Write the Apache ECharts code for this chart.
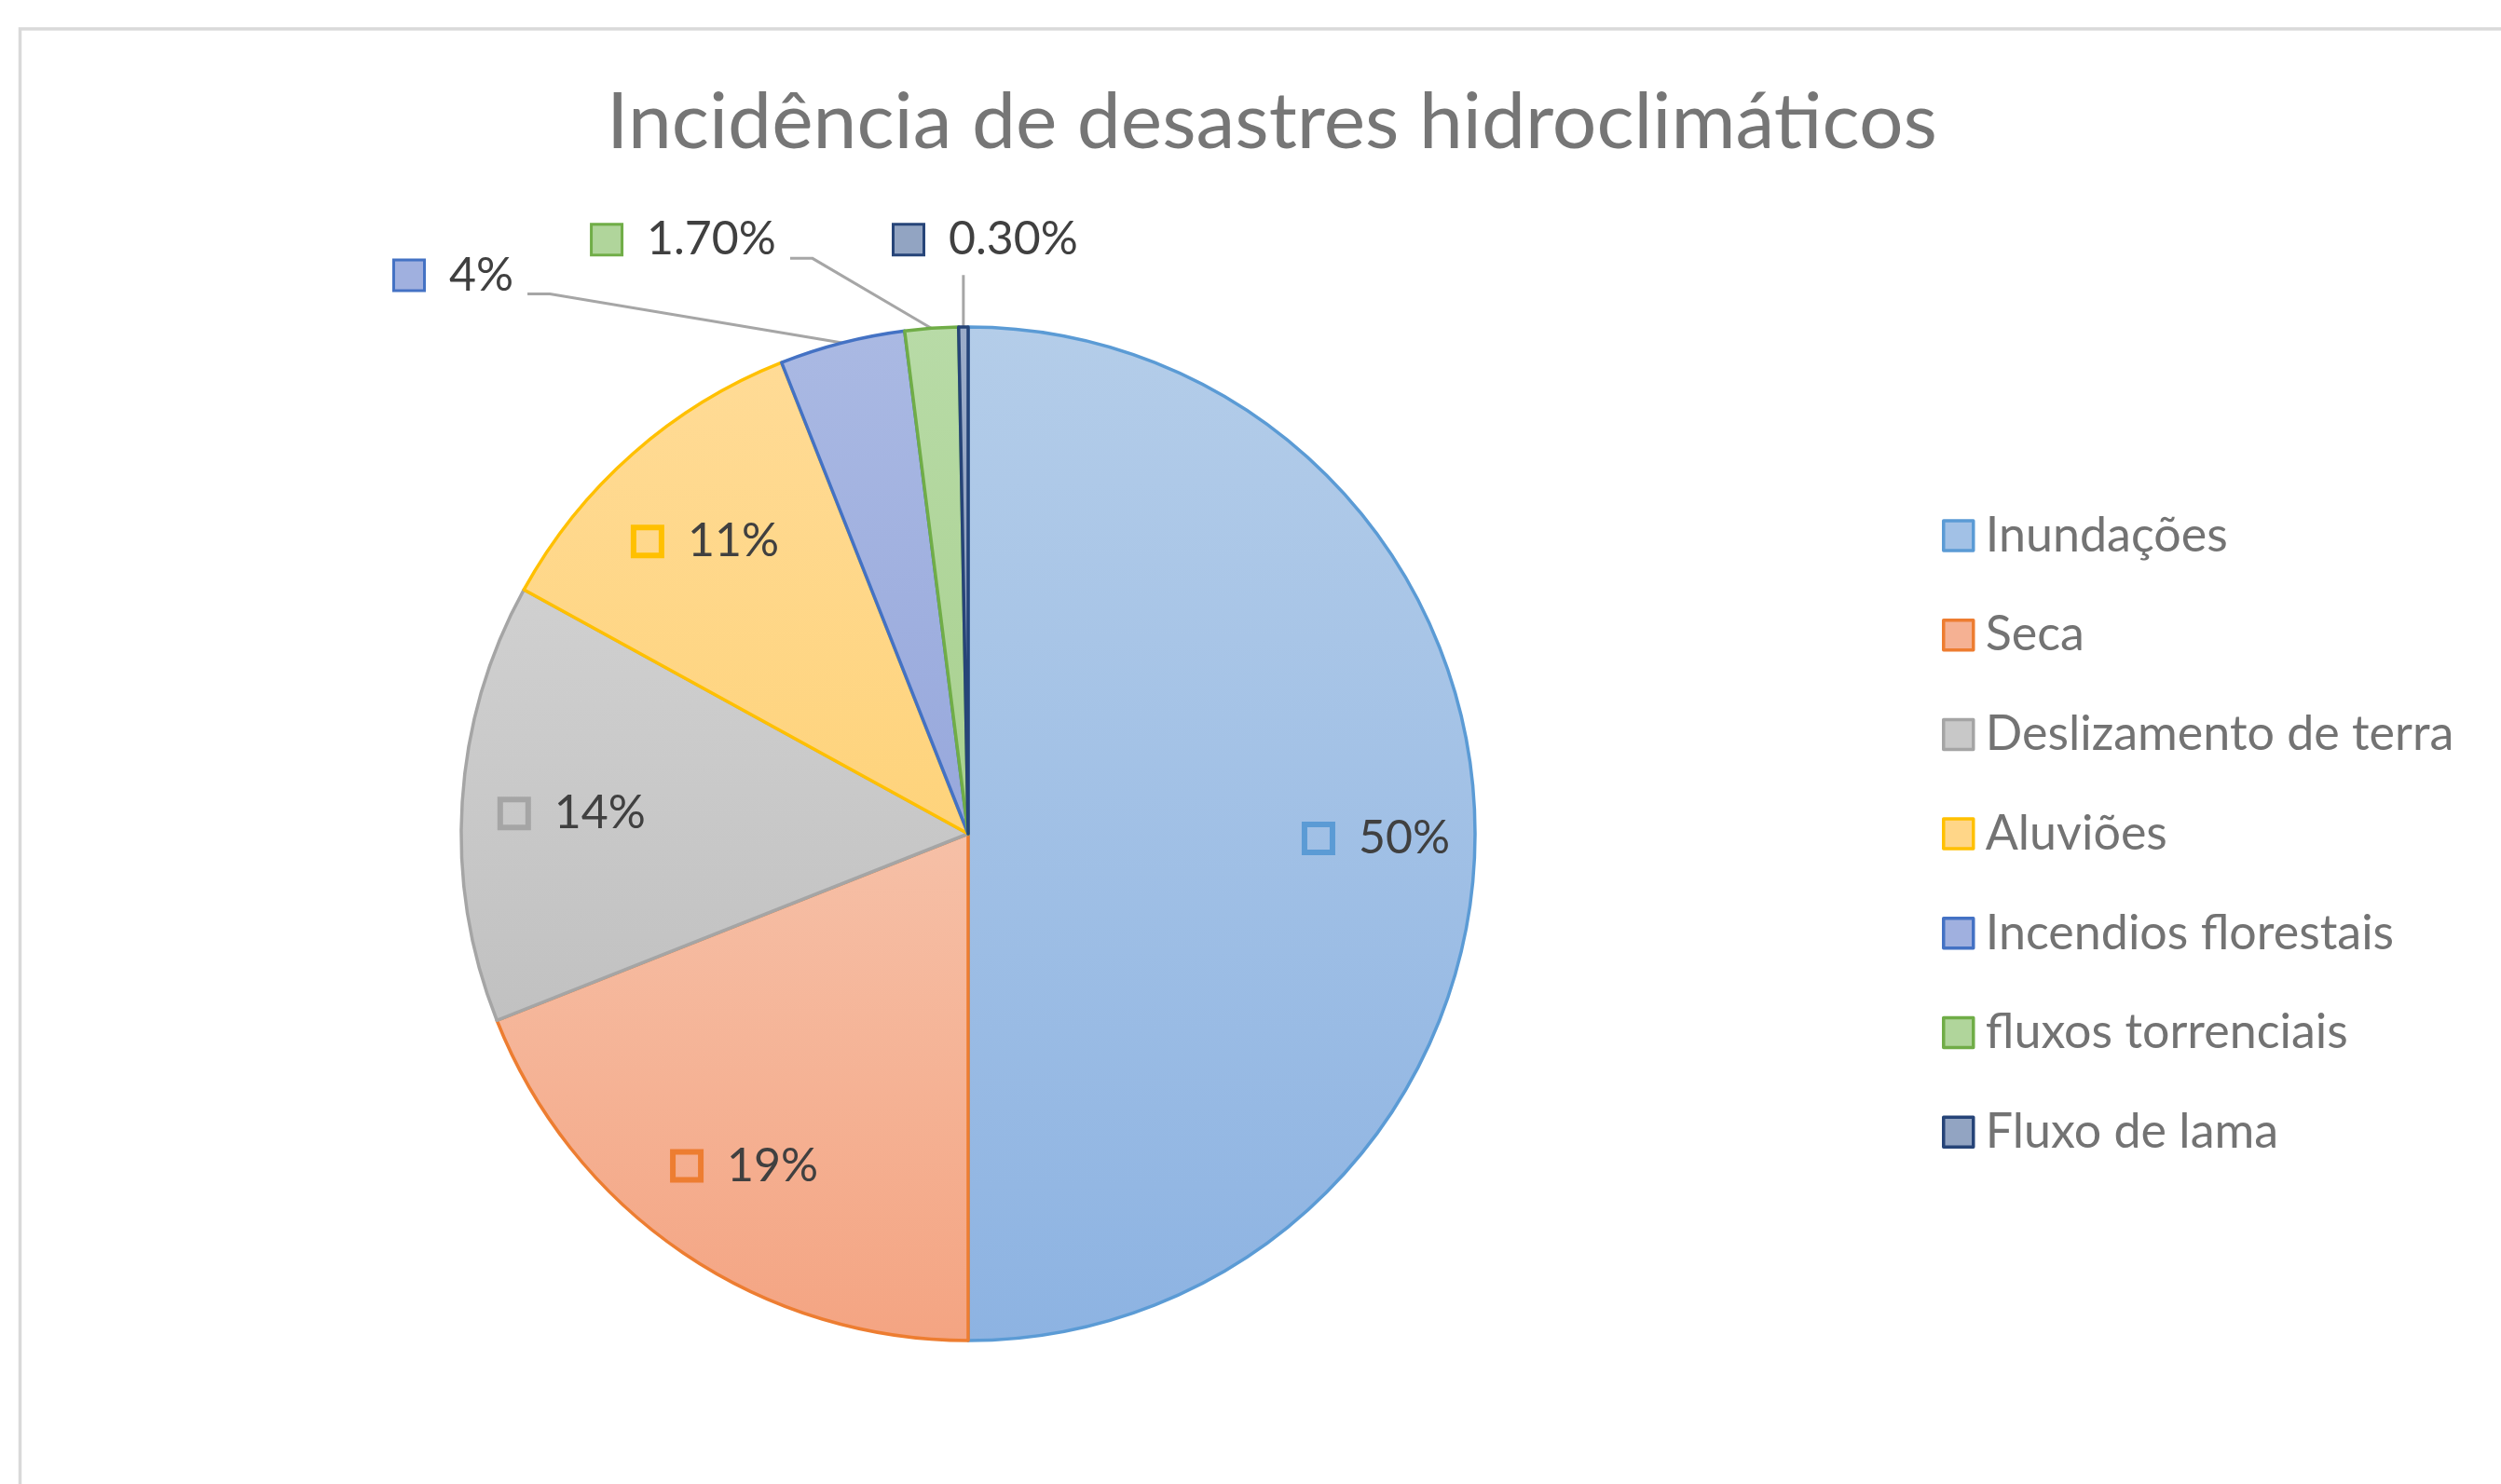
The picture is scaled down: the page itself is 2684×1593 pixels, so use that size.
<!DOCTYPE html>
<html>
<head>
<meta charset="utf-8">
<script src="https://cdn.jsdelivr.net/npm/echarts@6/dist/echarts.min.js"></script>
<style>
html,body{margin:0;padding:0;background:#ffffff;}
#chart{width:2684px;height:1593px;}
</style>
</head>
<body>
<div id="chart"></div>
<script>
// ---- data ----
const chartTitle = 'Incidência de desastres hidroclimáticos';
const categories = ['Inundações', 'Seca', 'Deslizamento de terra', 'Aluviões', 'Incendios florestais', 'fluxos torrenciais', 'Fluxo de lama'];
const values = [50, 19, 14, 11, 4, 1.7, 0.3];

// ---- styles ----
const fillTop = ['#b4cde9', '#f6c0a7', '#d0d0d0', '#ffdb96', '#aab9e3', '#b8dba7', '#9bacc9'];
const fillBottom = ['#8db3e2', '#f4a482', '#c1c1c1', '#fed37b', '#97a8dc', '#a8d08e', '#8a9cbc'];
const fillFlat = ['#a2c1e6', '#f5b193', '#c8c8c8', '#ffd688', '#a0b0df', '#b0d59b', '#92a4c2'];
const borderColors = ['#5b9bd5', '#ed7d31', '#a5a5a5', '#ffc000', '#4472c4', '#70ad47', '#264478'];

const PIE_CENTER = [1039, 895];
const PIE_RADIUS = 544;
const INSIDE_LABEL_RING = [304, 540];
const INSIDE_PADDING = {0: [10, 0, 0, 28]};
const OUTSIDE = {4: [-413, -58], 5: [-333, -92], 6: [-67, -92]};
const FONT = 'Lato';

function fmt(v) { return (Number.isInteger(v) ? String(v) : v.toFixed(2)) + '%'; }

// mid-angle point on the outer arc of slice i (start at top, clockwise)
const total = values.reduce((a, b) => a + b, 0);
function arcMid(i) {
  let cum = 0;
  for (let k = 0; k < i; k++) cum += values[k];
  const frac = (cum + values[i] / 2) / total;
  const th = (90 - 360 * frac) * Math.PI / 180;
  return [PIE_CENTER[0] + PIE_RADIUS * Math.cos(th), PIE_CENTER[1] - PIE_RADIUS * Math.sin(th)];
}

function richFor(i, filled) {
  return {
    ic: { width: 30, height: 30, borderColor: borderColors[i], borderWidth: 3,
          backgroundColor: filled ? fillFlat[i] : 'transparent', verticalAlign: 'middle' },
    sp: { width: 28 },
    v: { fontFamily: FONT, fontSize: 50, color: '#404040', verticalAlign: 'middle' }
  };
}

const mainData = categories.map((name, i) => {
  const outside = OUTSIDE[i] !== undefined;
  return {
    name: name,
    value: values[i],
    itemStyle: {
      color: { type: 'linear', x: 0, y: 0, x2: 0, y2: 1,
               colorStops: [{ offset: 0, color: fillTop[i] }, { offset: 1, color: fillBottom[i] }] },
      borderColor: borderColors[i],
      borderWidth: 3.5
    },
    label: outside ? {
      show: true, position: 'outside',
      formatter: '{ic|}{sp|}{v|' + fmt(values[i]) + '}',
      rich: richFor(i, true)
    } : { show: false },
    labelLine: { show: outside }
  };
});

const overlayData = categories.map((name, i) => {
  const inside = OUTSIDE[i] === undefined;
  return {
    name: name,
    value: values[i],
    label: inside ? {
      show: true, position: 'inside',
      padding: INSIDE_PADDING[i] || [10, 0, 0, 0],
      formatter: '{ic|}{sp|}{v|' + fmt(values[i]) + '}',
      rich: richFor(i, false)
    } : { show: false },
    labelLine: { show: false }
  };
});

const chart = echarts.init(document.getElementById('chart'), null, { renderer: 'canvas' });
chart.setOption({
  animation: false,
  backgroundColor: '#ffffff',
  graphic: [{
    type: 'rect', silent: true, z: -10,
    shape: { x: 21.5, y: 31, width: 3000, height: 2000 },
    style: { fill: 'none', stroke: '#d9d9d9', lineWidth: 3.5 }
  }],
  title: {
    text: chartTitle,
    left: 1365, top: 90, padding: 0,
    textAlign: 'center',
    textStyle: { fontFamily: FONT, fontSize: 84, fontWeight: 'normal', color: '#767676' }
  },
  legend: {
    orient: 'vertical',
    left: 2084, top: 549, padding: 0,
    itemWidth: 32, itemHeight: 32, itemGap: 54.7,
    icon: 'rect',
    selectedMode: false,
    textStyle: { fontFamily: FONT, fontSize: 52, lineHeight: 52, color: '#737373', padding: [0, 0, 0, 8] },
    data: categories.map((n, i) => ({
      name: n,
      itemStyle: { color: fillFlat[i], borderColor: borderColors[i], borderWidth: 3.5 }
    }))
  },
  series: [
    {
      type: 'pie',
      name: 'main',
      center: PIE_CENTER,
      radius: PIE_RADIUS,
      startAngle: 90,
      clockwise: true,
      avoidLabelOverlap: false,
      emphasis: { disabled: true },
      labelLine: { length: 20, length2: 25, smooth: false, lineStyle: { color: '#a6a6a6', width: 3 } },
      labelLayout: function (p) {
        const o = OUTSIDE[p.dataIndex];
        if (!o) return {};
        const x = p.rect.x + o[0];
        const y = p.rect.y + o[1];
        const w = p.labelRect.width;
        const a = arcMid(p.dataIndex);
        const yl = y + 20;
        let pts;
        if (a[0] >= x && a[0] <= x + w) {
          pts = [a, [a[0], (a[1] + y + 38) / 2], [a[0], y + 38]];
        } else {
          pts = [a, [x + w + 36, yl], [x + w + 12, yl]];
        }
        return { x: x, y: y, align: 'left', verticalAlign: 'middle', labelLinePoints: pts };
      },
      data: mainData
    },
    {
      type: 'pie',
      name: 'labels',
      silent: true,
      center: PIE_CENTER,
      radius: INSIDE_LABEL_RING,
      startAngle: 90,
      clockwise: true,
      avoidLabelOverlap: false,
      emphasis: { disabled: true },
      itemStyle: { color: 'rgba(0,0,0,0)', borderWidth: 0 },
      data: overlayData
    }
  ]
});
</script>
</body>
</html>
